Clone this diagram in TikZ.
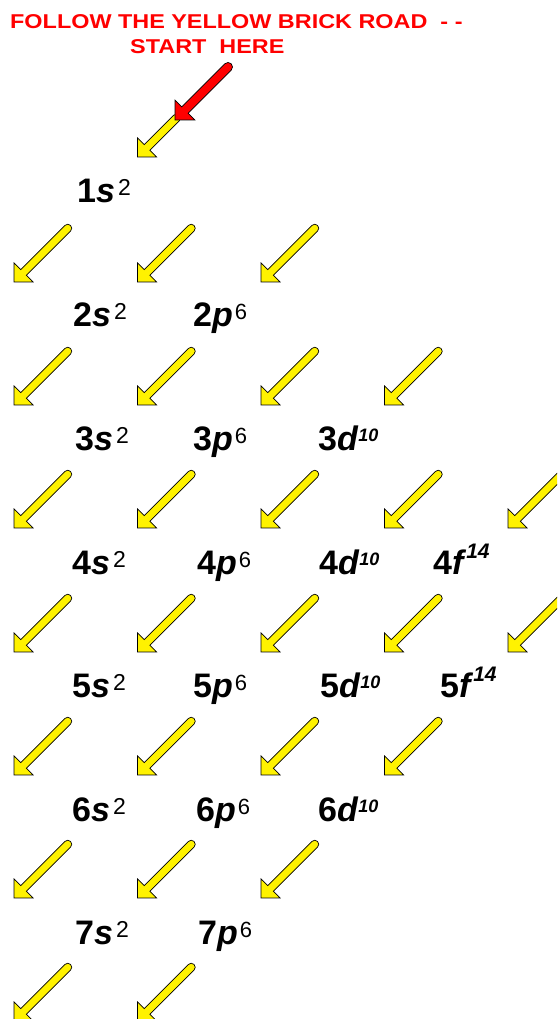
\documentclass[tikz,border=0pt]{standalone}
\usepackage{fontspec}
\setmainfont{Liberation Sans}
\newcommand\ssup[1]{\hspace{3pt}\raisebox{7.5pt}{\fontsize{23}{23}\selectfont\mdseries\upshape #1}}
\newcommand\psup[1]{\hspace{2pt}\raisebox{7pt}{\fontsize{22}{22}\selectfont\mdseries\upshape #1}}
\newcommand\dsup[1]{\raisebox{9pt}{\fontsize{18}{18}\selectfont\bfseries\itshape #1}}
\newcommand\fsup[1]{\raisebox{16pt}{\fontsize{21}{21}\selectfont\bfseries\itshape #1}}
\newcommand\widetext[1]{\scalebox{1.17}[1]{#1}}
\tikzset{
  pics/yarrow/.style={code={
    \fill[yellow,draw=black,line width=0.7pt,line join=miter]
      (0,0) -- (13.5,13.5) -- (13.5,4) -- (#1,4)
      arc[start angle=90,end angle=-90,radius=4]
      -- (13.5,-4) -- (13.5,-13.5) -- cycle;}},
  pics/rarrow/.style={code={
    \fill[red,draw=black,line width=0.7pt,line join=miter]
      (0,0) -- (14,14) -- (14,4.5) -- (#1,4.5)
      arc[start angle=90,end angle=-90,radius=4.5]
      -- (14,-4.5) -- (14,-14) -- cycle;}},
  lbl/.style={inner sep=0pt,anchor=base west,font=\fontsize{34}{34}\selectfont\bfseries},
  ttl/.style={inner sep=0pt,anchor=base west,text=red,font=\fontsize{20}{20}\selectfont\bfseries}
}
\begin{document}
\begin{tikzpicture}[x=1pt,y=1pt]
\useasboundingbox (0,0) rectangle (557,1019);
\clip (0,0) rectangle (557,1019);
\fill[white] (0,0) rectangle (557,1019);
% title
\node[ttl] (t1) at (10,990) {\widetext{FOLLOW THE YELLOW BRICK ROAD\ \ - -}};
\node[ttl] (t2) at (130,965) {\widetext{START\ \ HERE}};
% arrows
\pic[rotate=45] (a0) at (137.5,862) {yarrow=55};
\pic[rotate=45] (red) at (175,899) {rarrow=75};
\foreach \yy/\n in {737/2,614/3,491/4,367/4,244/3,121/2,-2/1}{
  \foreach \k in {0,...,\n}{
    \pic[rotate=45] at ({14+123.5*\k},\yy) {yarrow=76};
  }
}
% labels
\node[lbl] (o1s) at (77,816) {1\textit{s}\ssup{2}};
\node[lbl] (o2s) at (73,692) {2\textit{s}\ssup{2}};
\node[lbl] (o2p) at (193,692) {2\textit{p}\psup{6}};
\node[lbl] (o3s) at (75,568) {3\textit{s}\ssup{2}};
\node[lbl] (o3p) at (193,568) {3\textit{p}\psup{6}};
\node[lbl] (o3d) at (318,568) {3\textit{d}\dsup{10}};
\node[lbl] (o4s) at (72,444) {4\textit{s}\ssup{2}};
\node[lbl] (o4p) at (197,444) {4\textit{p}\psup{6}};
\node[lbl] (o4d) at (319,444) {4\textit{d}\dsup{10}};
\node[lbl] (o4f) at (433,444) {4\textit{f}\fsup{14}};
\node[lbl] (o5s) at (72,321) {5\textit{s}\ssup{2}};
\node[lbl] (o5p) at (193,321) {5\textit{p}\psup{6}};
\node[lbl] (o5d) at (320,321) {5\textit{d}\dsup{10}};
\node[lbl] (o5f) at (440,321) {5\textit{f}\fsup{14}};
\node[lbl] (o6s) at (72,197) {6\textit{s}\ssup{2}};
\node[lbl] (o6p) at (196,197) {6\textit{p}\psup{6}};
\node[lbl] (o6d) at (318,197) {6\textit{d}\dsup{10}};
\node[lbl] (o7s) at (75,74) {7\textit{s}\ssup{2}};
\node[lbl] (o7p) at (198,74) {7\textit{p}\psup{6}};
\end{tikzpicture}
\end{document}
